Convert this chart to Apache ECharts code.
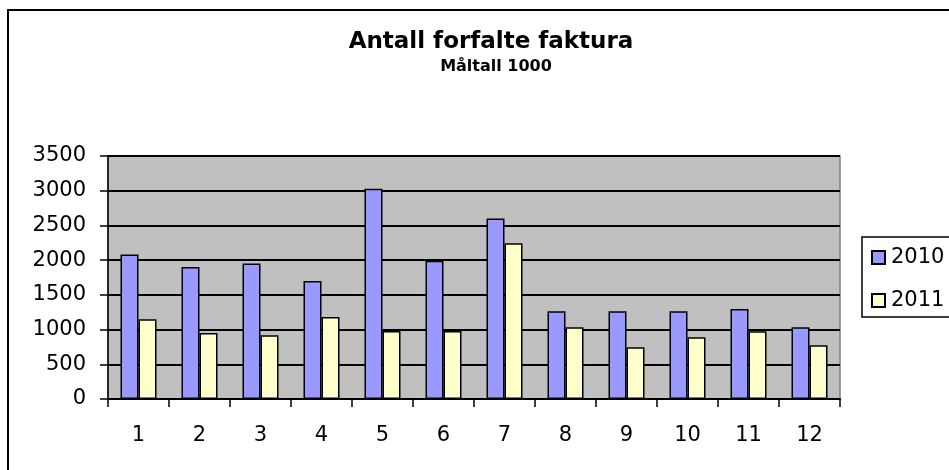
<!DOCTYPE html>
<html>
<head>
<meta charset="utf-8">
<script src="https://cdn.jsdelivr.net/npm/echarts@6/dist/echarts.min.js"></script>
<style>
  html, body { margin: 0; padding: 0; background: #fff; }
  #bar_chart { width: 949px; height: 470px; }
</style>
</head>
<body>
<div id="bar_chart"></div>
<script>
// 数据
const months = ['1', '2', '3', '4', '5', '6', '7', '8', '9', '10', '11', '12'];
const data2010 = [2080, 1900, 1950, 1700, 3030, 1990, 2600, 1265, 1265, 1265, 1295, 1035];
const data2011 = [1150, 950, 920, 1180, 980, 980, 2245, 1035, 745, 890, 975, 775];
const yTicks = [0, 500, 1000, 1500, 2000, 2500, 3000, 3500];

const font = 'DejaVu Sans, sans-serif';

const chart = echarts.init(document.getElementById('bar_chart'));

const option = {
  animation: false,
  backgroundColor: '#fff',
  textStyle: { fontFamily: font },
  graphic: [{
    // 外框
    type: 'rect',
    shape: { x: 8, y: 10, width: 980, height: 500 },
    style: { fill: 'none', stroke: '#000', lineWidth: 2 },
    silent: true
  }, {
    // 图例框（超出右边缘）
    type: 'rect',
    shape: { x: 862, y: 237, width: 200, height: 80 },
    style: { fill: '#fff', stroke: '#000', lineWidth: 1.5 },
    silent: true,
    z: -1
  }],
  title: [{
    text: 'Antall forfalte faktura',
    left: 486,
    top: 26,
    textAlign: 'center',
    textStyle: { fontFamily: font, fontSize: 23, fontWeight: 'bold', color: '#000' }
  }, {
    text: 'Måltall 1000',
    left: 491,
    top: 54,
    textAlign: 'center',
    textStyle: { fontFamily: font, fontSize: 16, fontWeight: 'bold', color: '#000' }
  }],
  legend: {
    orient: 'vertical',
    left: 862,
    top: 237,
    padding: [10, 0, 10, 9],
    itemWidth: 13,
    itemHeight: 13,
    itemGap: 22,
    icon: 'rect',
    textStyle: { fontFamily: font, fontSize: 21, color: '#000', padding: [0, 0, 0, 1] },
    data: ['2010', '2011']
  },
  grid: {
    left: 108,
    top: 156,
    right: 109,
    bottom: 71,
    show: true,
    backgroundColor: '#c0c0c0',
    borderColor: '#808080',
    borderWidth: 1.5,
    containLabel: false
  },
  xAxis: {
    type: 'category',
    data: months,
    axisLine: { show: true, lineStyle: { color: '#000', width: 2 } },
    axisTick: { show: true, length: 8, lineStyle: { color: '#000', width: 1.5 } },
    axisLabel: { fontFamily: font, fontSize: 21, color: '#000', margin: 26 },
    splitLine: { show: false }
  },
  yAxis: {
    type: 'value',
    min: yTicks[0],
    max: yTicks[yTicks.length - 1],
    interval: 500,
    axisLine: { show: true, lineStyle: { color: '#000', width: 1.5 } },
    axisTick: { show: true, length: 8, lineStyle: { color: '#000', width: 1.5 } },
    axisLabel: {
      fontFamily: font,
      fontSize: 21,
      color: '#000',
      margin: 22,
      formatter: v => String(v)
    },
    splitLine: { show: true, lineStyle: { color: '#000', width: 2 } }
  },
  series: [{
    name: '2010',
    type: 'bar',
    data: data2010,
    barWidth: 18,
    barGap: '0%',
    itemStyle: { color: '#9999ff', borderColor: '#000', borderWidth: 1.5 }
  }, {
    name: '2011',
    type: 'bar',
    data: data2011,
    barWidth: 18,
    barGap: '0%',
    itemStyle: { color: '#ffffcc', borderColor: '#000', borderWidth: 1.5 }
  }]
};

chart.setOption(option);
</script>
</body>
</html>
